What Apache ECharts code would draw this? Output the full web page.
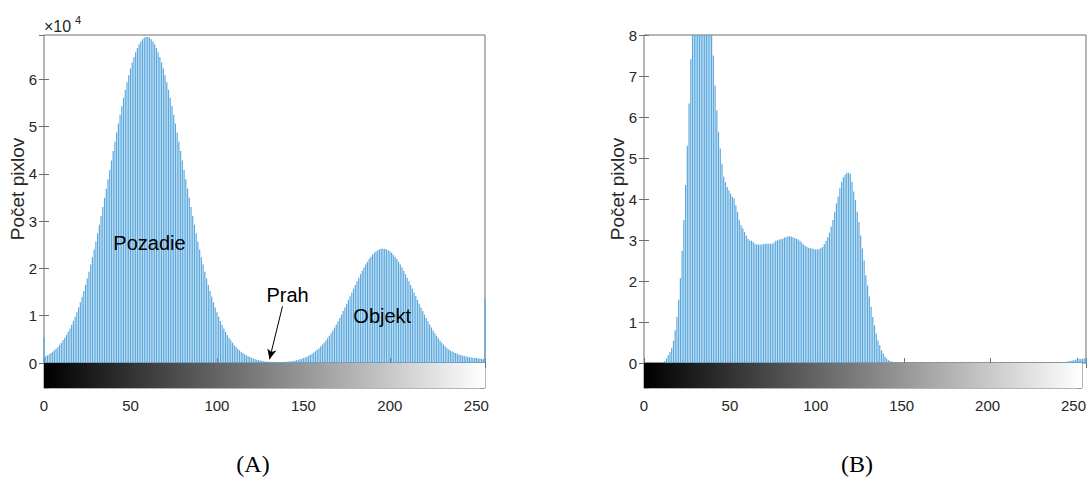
<!DOCTYPE html>
<html>
<head>
<meta charset="utf-8">
<script src="https://cdn.jsdelivr.net/npm/echarts@6/dist/echarts.min.js"></script>
<style>
  html, body { margin: 0; padding: 0; background: #fff; }
  #chart { width: 1089px; height: 477px; }
</style>
</head>
<body>
<div id="chart"></div>
<script>
// histogram A (x 10^4 pixels), gray levels 0..255
var countsA = [
  0.55,0.142,0.162,0.185,0.210,0.238,0.269,0.303,0.341,0.383,
  0.429,0.479,0.534,0.594,0.660,0.731,0.807,0.890,0.979,1.074,
  1.176,1.285,1.401,1.524,1.653,1.790,1.933,2.083,2.240,2.403,
  2.572,2.747,2.927,3.112,3.301,3.494,3.689,3.887,4.085,4.285,
  4.483,4.681,4.876,5.067,5.255,5.437,5.612,5.780,5.939,6.089,
  6.229,6.357,6.474,6.577,6.667,6.743,6.805,6.851,6.882,6.898,
  6.898,6.882,6.851,6.805,6.743,6.667,6.577,6.474,6.357,6.229,
  6.089,5.939,5.780,5.612,5.437,5.255,5.067,4.876,4.681,4.483,
  4.285,4.085,3.887,3.689,3.494,3.301,3.112,2.927,2.747,2.572,
  2.403,2.240,2.083,1.933,1.790,1.653,1.524,1.401,1.285,1.176,
  1.074,0.979,0.890,0.807,0.731,0.660,0.594,0.534,0.479,0.429,
  0.383,0.341,0.303,0.269,0.238,0.210,0.185,0.162,0.142,0.125,
  0.109,0.095,0.082,0.071,0.062,0.053,0.046,0.039,0.034,0.029,
  0.029,0.025,0.023,0.021,0.021,0.020,0.020,0.021,0.022,0.024,
  0.026,0.029,0.033,0.038,0.044,0.050,0.058,0.067,0.078,0.089,
  0.103,0.118,0.134,0.153,0.174,0.197,0.222,0.250,0.280,0.313,
  0.350,0.389,0.431,0.476,0.525,0.576,0.631,0.689,0.751,0.815,
  0.882,0.952,1.024,1.099,1.175,1.253,1.332,1.412,1.492,1.572,
  1.651,1.730,1.806,1.880,1.952,2.020,2.084,2.144,2.199,2.249,
  2.293,2.331,2.363,2.388,2.406,2.416,2.420,2.416,2.406,2.388,
  2.363,2.331,2.293,2.249,2.199,2.144,2.084,2.020,1.952,1.880,
  1.806,1.730,1.651,1.572,1.492,1.412,1.332,1.253,1.175,1.099,
  1.024,0.952,0.882,0.815,0.751,0.689,0.631,0.576,0.525,0.476,
  0.431,0.389,0.350,0.313,0.285,0.262,0.242,0.225,0.210,0.195,
  0.180,0.168,0.157,0.147,0.138,0.130,0.123,0.117,0.111,0.106,
  0.101,0.097,0.093,0.089,0.086,1.36
];

// histogram B (pixels), gray levels 0..255
var countsB = [
  0,0,0,0,0,0,0,0.005,0.008,0.012,
  0.015,0.02,0.05,0.11,0.19,0.27,0.37,0.54,0.80,1.13,
  1.54,2.07,2.74,3.49,4.34,5.30,6.33,7.41,8.5,9.5,
  10.3,10.8,11.0,11.0,10.8,10.4,10.0,9.5,9.0,8.3,
  7.50,6.77,6.16,5.63,5.23,4.86,4.54,4.41,4.29,4.21,
  4.13,4.05,4.01,3.85,3.68,3.48,3.36,3.28,3.20,3.11,
  3.03,2.99,2.98,2.95,2.91,2.89,2.89,2.89,2.89,2.90,
  2.91,2.91,2.91,2.91,2.91,2.94,2.98,2.99,3.01,3.02,
  3.03,3.06,3.07,3.09,3.09,3.08,3.07,3.05,3.03,3.01,
  2.98,2.94,2.89,2.86,2.83,2.81,2.80,2.79,2.78,2.77,
  2.77,2.78,2.80,2.83,2.90,2.98,3.07,3.18,3.33,3.49,
  3.69,3.89,4.06,4.26,4.42,4.53,4.59,4.64,4.64,4.61,
  4.42,4.18,3.98,3.69,3.44,3.11,2.79,2.50,2.14,1.89,
  1.62,1.37,1.12,0.92,0.72,0.55,0.43,0.31,0.23,0.16,
  0.11,0.07,0.05,0.03,0.02,0.01,0.005,0,0,0,
  0,0,0,0,0,0,0,0,0,0,
  0,0,0,0,0,0,0,0,0,0,
  0,0,0,0,0,0,0,0,0,0,
  0,0,0,0,0,0,0,0,0,0,
  0,0,0,0,0,0,0,0,0,0,
  0,0,0,0,0,0,0,0,0,0,
  0,0,0,0,0,0,0,0,0,0,
  0,0,0,0,0,0,0,0,0,0,
  0,0,0,0,0,0,0,0,0,0,
  0,0.01,0.02,0.02,0.03,0.04,0.05,0.06,0.07,0.08,
  0.09,0.10,0.10,0.11,0.11,0.12
];

var grayRange = [[0, 255]];
var yMaxA = 6.94, yMaxB = 8;
var yLabel = 'Počet pixlov';
var panelTitles = ['(A)', '(B)'];
// annotations of A, in data coords
var notesA = [
  { text: 'Pozadie', at: [61, 2.53] },
  { text: 'Objekt', at: [195.6, 1.0] },
  { text: 'Prah', at: [140.8, 1.43] }
];
var arrowA = [[137.9, 1.2], [130.4, 0.08]];

var FONT = '"Liberation Sans", Arial, sans-serif';
var AXC = '#6e6e6e';
var TXC = '#262626';

var myChart = echarts.init(document.getElementById('chart'), null, { renderer: 'svg' });

function pairs(arr) {
  return arr.map(function (v, i) { return [i, v]; });
}

// gray strip under the axis, black at 0, white at 255
function stripItem(params, api) {
  var p0 = api.coord([api.value(0), 2]);
  var p1 = api.coord([api.value(1), 0]);
  return {
    type: 'rect',
    shape: { x: p0[0], y: p0[1], width: p1[0] - p0[0], height: p1[1] - p0[1] },
    style: {
      fill: new echarts.graphic.LinearGradient(0, 0, 1, 0, [
        { offset: 0, color: '#000' }, { offset: 1, color: '#fff' }
      ])
    }
  };
}

function xMain(grid, pos) {
  return {
    type: 'value', gridIndex: grid, position: pos, min: 0, max: 255, interval: 50,
    axisLine: { show: false },
    axisTick: { show: true, inside: true, length: 5, lineStyle: { color: AXC } },
    axisLabel: { show: false },
    splitLine: { show: false }
  };
}
function xStrip(grid) {
  return {
    type: 'value', gridIndex: grid, min: 0, max: 255, interval: 50,
    axisLine: { show: false },
    axisTick: { show: true, inside: true, length: 5, lineStyle: { color: AXC } },
    axisLabel: { show: true, margin: 10, fontSize: 15, color: TXC, fontFamily: FONT, showMaxLabel: false },
    splitLine: { show: false }
  };
}
function yMain(grid, pos, max, labels) {
  return {
    type: 'value', gridIndex: grid, position: pos, min: 0, max: max, interval: 1,
    axisLine: { show: false },
    axisTick: { show: true, inside: true, length: 5, lineStyle: { color: AXC } },
    axisLabel: { show: labels, margin: 7, fontSize: 15, color: TXC, fontFamily: FONT, showMaxLabel: max === 8 },
    splitLine: { show: false }
  };
}
function yStrip(grid, pos) {
  return {
    type: 'value', gridIndex: grid, position: pos, min: 0, max: 2, interval: 1,
    axisLine: { show: false },
    axisTick: { show: true, inside: true, length: 5, lineStyle: { color: '#999' } },
    axisLabel: { show: false },
    splitLine: { show: false }
  };
}

var barStyle = { color: '#5aa8dd' };

var option = {
  animation: false,
  backgroundColor: '#fff',
  textStyle: { fontFamily: FONT },
  grid: [
    { left: 44, top: 35, width: 441, height: 328, show: true, borderColor: AXC, borderWidth: 1, backgroundColor: 'transparent' },
    { left: 44, top: 363, width: 441, height: 25, show: true, borderColor: AXC, borderWidth: 1, backgroundColor: 'transparent' },
    { left: 644, top: 35, width: 442, height: 328, show: true, borderColor: AXC, borderWidth: 1, backgroundColor: 'transparent' },
    { left: 644, top: 363, width: 442, height: 25, show: true, borderColor: AXC, borderWidth: 1, backgroundColor: 'transparent' }
  ],
  xAxis: [
    xMain(0, 'bottom'), xMain(0, 'top'), xStrip(1),
    xMain(2, 'bottom'), xMain(2, 'top'), xStrip(3)
  ],
  yAxis: [
    yMain(0, 'left', yMaxA, true), yMain(0, 'right', yMaxA, false),
    yStrip(1, 'left'), yStrip(1, 'right'),
    yMain(2, 'left', yMaxB, true), yMain(2, 'right', yMaxB, false),
    yStrip(3, 'left'), yStrip(3, 'right')
  ],
  series: [
    {
      type: 'bar', xAxisIndex: 0, yAxisIndex: 0, data: pairs(countsA),
      barWidth: 1.2, itemStyle: barStyle, clip: true,
      markLine: {
        silent: true, symbol: ['none', 'arrow'], symbolSize: [7, 10],
        lineStyle: { color: '#000', width: 1, type: 'solid' },
        label: { show: false },
        data: [[{ coord: arrowA[0] }, { coord: arrowA[1] }]]
      }
    },
    {
      type: 'custom', xAxisIndex: 2, yAxisIndex: 2, data: grayRange,
      renderItem: stripItem, z: 1
    },
    {
      type: 'bar', xAxisIndex: 3, yAxisIndex: 4, data: pairs(countsB),
      barWidth: 1.2, itemStyle: barStyle, clip: true
    },
    {
      type: 'custom', xAxisIndex: 5, yAxisIndex: 6, data: grayRange,
      renderItem: stripItem, z: 1
    }
  ]
};

myChart.setOption(option);

// texts: axis names, exponent, panel titles, annotations
var g = [];
[[17, 189], [617, 189]].forEach(function (p) {
  g.push({
    type: 'text', x: p[0], y: p[1], rotation: Math.PI / 2,
    style: { text: yLabel, fontSize: 19, fontFamily: FONT, fill: TXC, align: 'center', verticalAlign: 'middle' }
  });
});
g.push({ type: 'text', x: 44, y: 26, style: { text: '×10', fontSize: 16, fontFamily: FONT, fill: TXC, align: 'left', verticalAlign: 'middle' } });
g.push({ type: 'text', x: 75, y: 20, style: { text: '4', fontSize: 11, fontFamily: FONT, fill: TXC, align: 'left', verticalAlign: 'middle' } });
[[253, 464], [857, 464]].forEach(function (p, i) {
  g.push({
    type: 'text', x: p[0], y: p[1],
    style: { text: panelTitles[i], fontSize: 24, fontFamily: '"Liberation Serif", "Times New Roman", serif', fill: '#000', align: 'center', verticalAlign: 'middle' }
  });
});
notesA.forEach(function (n) {
  var p = myChart.convertToPixel({ xAxisIndex: 0, yAxisIndex: 0 }, n.at);
  g.push({
    type: 'text', x: p[0], y: p[1], z: 10,
    style: { text: n.text, fontSize: 20, fontFamily: FONT, fill: '#000', align: 'center', verticalAlign: 'middle' }
  });
});
myChart.setOption({ graphic: g });
</script>
</body>
</html>
